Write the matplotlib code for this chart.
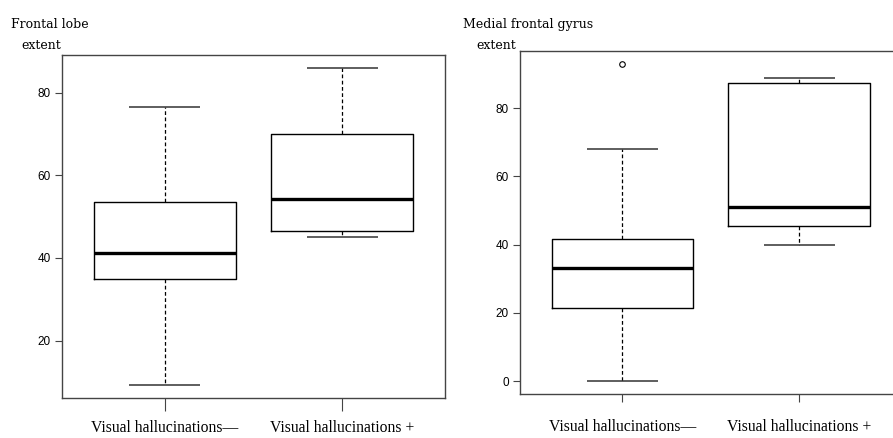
import matplotlib.pyplot as plt

# Values
groups = ["Visual hallucinations\u2014", "Visual hallucinations +"]

frontal_whislo = [9.3, 45.1]
frontal_q1 = [34.8, 46.6]
frontal_med = [41.2, 54.3]
frontal_q3 = [53.6, 70.1]
frontal_whishi = [76.5, 86.0]
frontal_fliers = [[], []]

medial_whislo = [0.0, 39.8]
medial_q1 = [21.3, 45.4]
medial_med = [33.3, 50.9]
medial_q3 = [41.7, 87.5]
medial_whishi = [68.2, 88.9]
medial_fliers = [[93.0], []]


def make_stats(lo, q1, med, q3, hi, fl):
    return [dict(whislo=lo[i], q1=q1[i], med=med[i], q3=q3[i], whishi=hi[i],
                 fliers=fl[i], label=groups[i]) for i in range(len(groups))]


spine_col = "#444444"

fig = plt.figure(figsize=(8.93, 4.38), dpi=100)
ax1 = fig.add_axes([0.0694, 0.0913, 0.4289, 0.7831])
ax2 = fig.add_axes([0.5823, 0.1012, 0.4274, 0.7824])

panels = [
    (ax1, make_stats(frontal_whislo, frontal_q1, frontal_med, frontal_q3, frontal_whishi, frontal_fliers),
     (6.1, 89.1), [20, 40, 60, 80], 9, 7),
    (ax2, make_stats(medial_whislo, medial_q1, medial_med, medial_q3, medial_whishi, medial_fliers),
     (-3.7, 96.8), [0, 20, 40, 60, 80], 6, 12),
]

for ax, stats, ylim, yticks, xtl, xpad in panels:
    ax.bxp(stats, positions=[1, 2], widths=0.8, patch_artist=False,
           boxprops=dict(color="black", linewidth=1.0),
           medianprops=dict(color="black", linewidth=2.4),
           whiskerprops=dict(color="black", linewidth=0.9, linestyle=(0, (3, 2))),
           capprops=dict(color="#333333", linewidth=1.1, solid_capstyle="butt"),
           flierprops=dict(marker="o", markersize=4, markerfacecolor="white",
                           markeredgecolor="black", markeredgewidth=0.8))
    ax.set_xlim(0.42, 2.58)
    ax.set_ylim(*ylim)
    ax.set_yticks(yticks)
    ax.set_xticks([1, 2])
    ax.set_xticklabels(groups, family="Liberation Serif", fontsize=11.3)
    for t in ax.get_yticklabels():
        t.set_family("Liberation Sans")
        t.set_fontsize(8.5)
    ax.tick_params(axis="x", length=xtl, width=0.8, color=spine_col, pad=xpad)
    ax.tick_params(axis="y", length=5, width=0.8, color=spine_col, pad=3)
    for s in ax.spines.values():
        s.set_color(spine_col)
        s.set_linewidth(1.0)

title_kw = dict(family="DejaVu Serif", fontsize=9.0, va="center", weight="medium")
fig.text(0.0123, 0.945, "Frontal lobe", **title_kw)
fig.text(0.0235, 0.897, "extent", **title_kw)
fig.text(0.518, 0.945, "Medial frontal gyrus", **title_kw)
fig.text(0.534, 0.897, "extent", **title_kw)

fig.savefig("out.png", dpi=100)
